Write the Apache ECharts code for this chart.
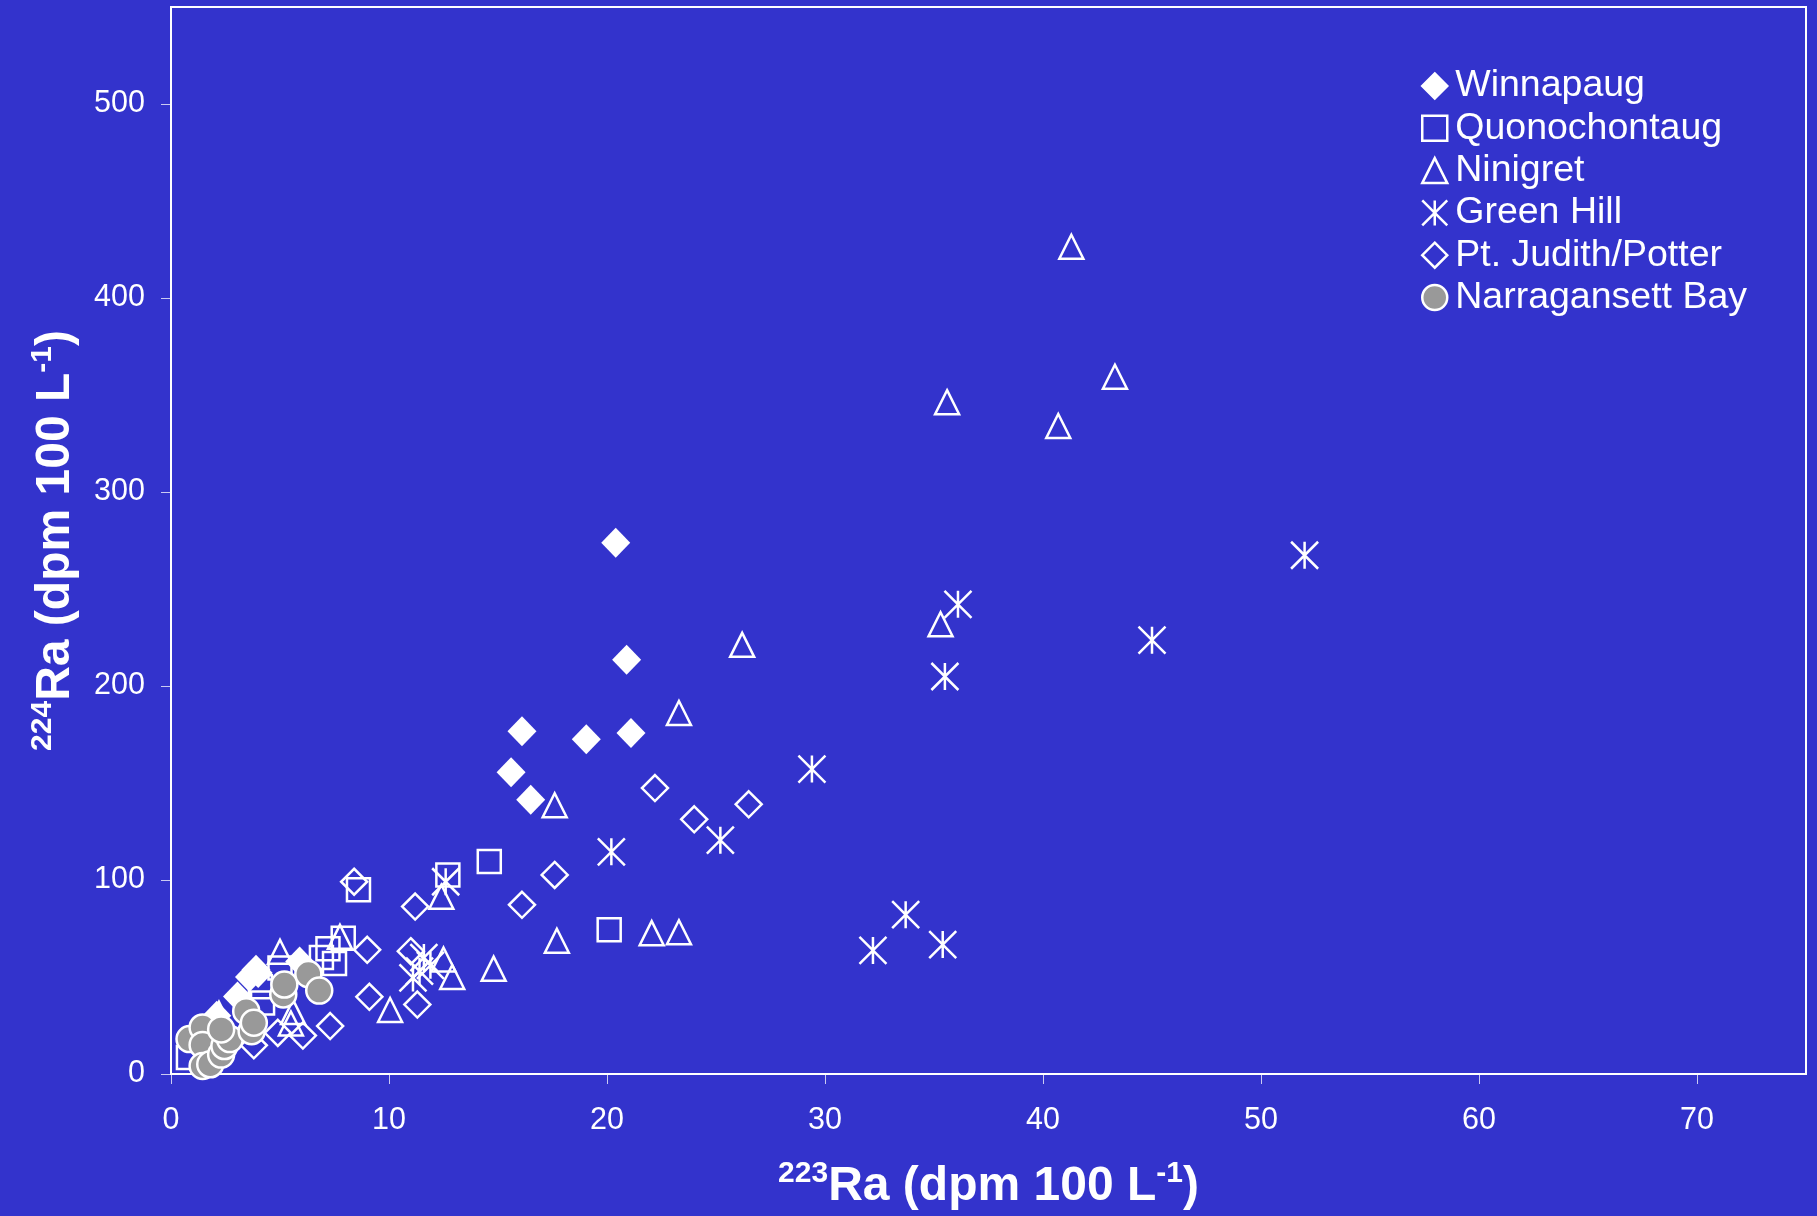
<!DOCTYPE html>
<html>
<head>
<meta charset="utf-8">
<script src="https://cdn.jsdelivr.net/npm/echarts@6/dist/echarts.min.js"></script>
<style>
html,body{margin:0;padding:0;background:#3333cc;}
#chart{width:1817px;height:1216px;}
</style>
</head>
<body>
<div id="chart"></div>
<script>
// ---- data (x = 223Ra, y = 224Ra, dpm 100 L-1) ----
const seriesNames = ['Winnapaug', 'Quonochontaug', 'Ninigret', 'Green Hill', 'Pt. Judith/Potter', 'Narragansett Bay'];
const xTicks = [0, 10, 20, 30, 40, 50, 60, 70];
const yTicks = [0, 100, 200, 300, 400, 500];

const winnapaug = [[20.4,273.8],[20.9,213.5],[16.1,176.7],[19.05,172.6],[21.1,175.8],[15.6,155.5],[16.5,141.4],
  [2.1,30],[3.05,40],[3.6,50],[3.9,53.8],[4.0,52],[5.9,58]];
const quonochontaug = [[14.6,109.5],[12.7,102.6],[8.6,95],[20.1,74.3],[7.9,70],[7.2,64.5],[7.5,57],[6.9,60],
  [5.0,54.6],[4.1,45],[4.2,36.6],[0.8,8.5]];
const ninigret = [[41.3,426.4],[43.3,359.4],[35.6,346.3],[40.7,334],[35.3,231.8],[26.2,221.2],[23.3,186.1],
  [17.6,138.5],[12.4,91.4],[22.05,72.6],[23.3,73.1],[17.7,68.7],[14.8,54.3],[12.5,59],[12.9,50],[10.05,33],
  [7.75,70.7],[5.0,63],[5.6,32],[5.5,26],[2.2,31]];
const greenHill = [[52.0,267.4],[36.1,242.1],[45.0,223.6],[35.5,204.9],[29.4,157.2],[25.2,120.5],[20.2,114.5],
  [12.6,99.1],[11.6,60],[11.9,56],[11.4,53],[11.1,49.5],[32.2,63.7],[33.7,82.1],[35.4,66.7]];
const ptJudith = [[22.2,147.4],[26.5,139],[24.0,131.3],[17.6,102.6],[16.1,87.2],[11.2,86.3],[8.4,99.1],[9.0,64],
  [11.0,63.3],[9.1,39.8],[11.3,35.8],[7.3,24.7],[6.05,19.8],[4.9,21.2],[3.8,14.8]];
const narragansett = [[0.85,18],[1.45,24],[1.45,15],[1.45,4.1],[1.8,5],[2.3,10],[2.45,14.4],[2.7,18],[2.3,23],
  [3.45,32.4],[3.7,22.1],[3.8,26.4],[5.15,41],[5.2,46.1],[6.3,51.5],[6.8,43]];

const FONT = '"Liberation Sans", Arial, sans-serif';
const WHITE = '#ffffff';
const BG = '#3333cc';
const ASTERISK = 'path://M10,0L10,20M0,0L20,20M20,0L0,20';

const chart = echarts.init(document.getElementById('chart'), null, {renderer: 'canvas'});

function hollow(name, data, symbol, size) {
  return {
    name: name, type: 'scatter', data: data, symbol: symbol, symbolSize: size,
    itemStyle: {color: 'rgba(0,0,0,0)', borderColor: WHITE, borderWidth: 2.5, opacity: 1},
    emphasis: {disabled: true}
  };
}

const titleRich = {
  s: {fontSize: 30, fontWeight: 'bold', color: WHITE, fontFamily: FONT, lineHeight: 26, verticalAlign: 'top'},
  m: {fontSize: 48, fontWeight: 'bold', color: WHITE, fontFamily: FONT, lineHeight: 56}
};

const option = {
  backgroundColor: BG,
  animation: false,
  grid: {left: 171, right: 11, top: 7, bottom: 138, show: true, borderColor: WHITE, borderWidth: 2, backgroundColor: 'transparent'},
  legend: {
    orient: 'vertical', left: 1421, top: 67, padding: 0,
    itemWidth: 25, itemHeight: 25, itemGap: 4.3,
    data: seriesNames,
    textStyle: {color: WHITE, fontSize: 37.5, fontFamily: FONT, lineHeight: 38, padding: [0, 0, 0, 3]},
    itemStyle: {borderWidth: 2.5}
  },
  xAxis: {
    type: 'value', min: xTicks[0], max: 75, interval: 10,
    name: '{s|223}{m|Ra (dpm 100 L}{s|-1}{m|)}',
    nameLocation: 'middle', nameGap: 85,
    nameTextStyle: {rich: titleRich},
    axisLine: {show: true, onZero: false, lineStyle: {color: WHITE, width: 2}},
    axisTick: {show: true, inside: false, length: 10, lineStyle: {color: 'rgba(255,255,255,0.75)', width: 1}},
    axisLabel: {color: WHITE, fontSize: 30.5, fontFamily: FONT, margin: 31, showMaxLabel: false,
      formatter: v => xTicks.indexOf(v) >= 0 ? String(v) : ''},
    splitLine: {show: false}
  },
  yAxis: {
    type: 'value', min: yTicks[0], max: 550, interval: 100,
    name: '{s|224}{m|Ra (dpm 100 L}{s|-1}{m|)}',
    nameLocation: 'middle', nameGap: 87,
    nameTextStyle: {rich: titleRich},
    axisLine: {show: true, onZero: false, lineStyle: {color: WHITE, width: 2}},
    axisTick: {show: true, inside: false, length: 10, lineStyle: {color: 'rgba(255,255,255,0.75)', width: 1}},
    axisLabel: {color: WHITE, fontSize: 30.5, fontFamily: FONT, margin: 26, showMaxLabel: false,
      formatter: v => yTicks.indexOf(v) >= 0 ? String(v) : ''},
    splitLine: {show: false}
  },
  series: [
    {
      name: seriesNames[0], type: 'scatter', data: winnapaug, symbol: 'diamond', symbolSize: [29, 30],
      itemStyle: {color: WHITE, borderColor: WHITE, borderWidth: 0, opacity: 1},
      emphasis: {disabled: true}
    },
    hollow(seriesNames[1], quonochontaug, 'rect', 23),
    hollow(seriesNames[2], ninigret, 'triangle', 24),
    hollow(seriesNames[3], greenHill, ASTERISK, 27),
    hollow(seriesNames[4], ptJudith, 'diamond', 26),
    {
      name: seriesNames[5], type: 'scatter', data: narragansett, symbol: 'circle', symbolSize: 26,
      itemStyle: {color: '#999999', borderColor: WHITE, borderWidth: 2.5, opacity: 1},
      emphasis: {disabled: true}
    }
  ]
};
chart.setOption(option);
</script>
</body>
</html>
